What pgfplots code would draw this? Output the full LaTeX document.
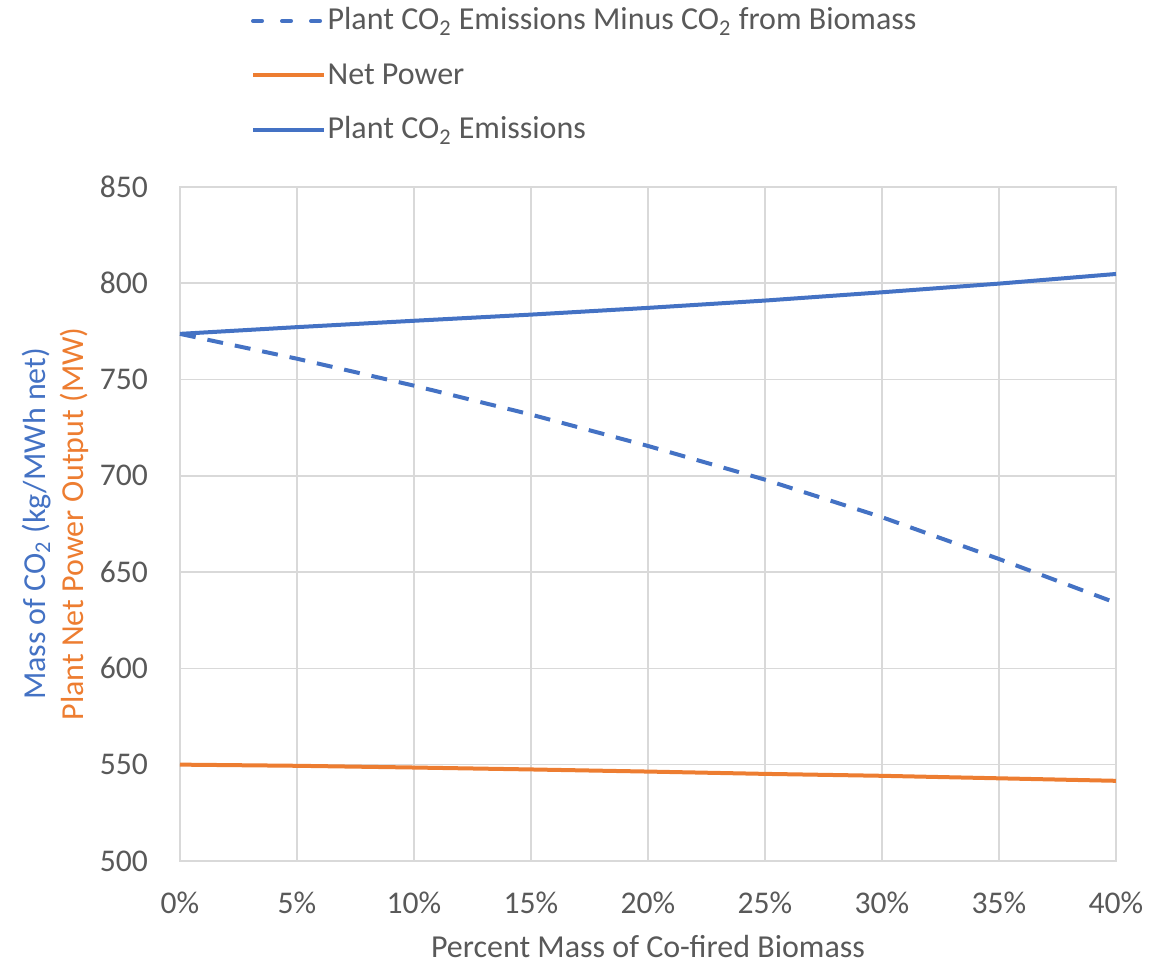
\documentclass[border=0pt]{standalone}
\usepackage{pgfplots}
\pgfplotsset{compat=1.18}
\usepackage{fontspec}
\setmainfont{Carlito}

\definecolor{exblue}{HTML}{4472C4}
\definecolor{exorange}{HTML}{ED7D31}
\definecolor{exgrid}{HTML}{D9D9D9}
\definecolor{extext}{HTML}{595959}

\newcommand{\tickfont}{\fontsize{15.8}{18}\selectfont}
\newcommand{\chfont}{\fontsize{16}{19}\selectfont}
\newcommand{\COtwo}{CO\textsubscript{2}}

\begin{document}
\begin{tikzpicture}
\begin{axis}[
  scale only axis,
  width=468pt, height=337pt,
  xmin=0, xmax=40, ymin=500, ymax=850,
  xtick={0,5,...,40},
  xticklabels={0\%,5\%,10\%,15\%,20\%,25\%,30\%,35\%,40\%},
  ytick={500,550,...,850},
  /pgf/number format/assume math mode=true,
  major tick length=0pt,
  grid=major,
  major grid style={draw=exgrid, line width=0.8pt},
  axis line style={draw=exgrid, line width=0.8pt},
  tick label style={font=\tickfont, text=extext, inner sep=0pt},
  yticklabel style={xshift=-15.8pt},
  xticklabel style={yshift=-15.3pt},
  legend style={draw=none, fill=none, anchor=north west,
    at={(rel axis cs:0.0759,1.2656)},
    inner sep=0pt, outer sep=0pt, row sep=13.25pt, column sep=0.8pt,
    font=\chfont, text=extext,
    nodes={inner sep=0pt, text height=11pt, text depth=3pt},
    cells={anchor=base west}},
  legend image code/.code={\draw[#1] (0pt,4.5pt) -- (35.5pt,4.5pt);},
  clip=false,
]
% plant emissions net of biogenic CO2
\addplot[exblue, line width=2pt, dash pattern=on 8pt off 6pt,
  legend image post style={dash pattern=on 4.5pt off 10pt, line cap=round}]
  coordinates {(0,773.7) (5,760.8) (10,746.8) (15,731.8) (20,715.5)
               (25,698.0) (30,678.5) (35,656.8) (40,634.0)};
\addlegendentry{Plant \COtwo{} Emissions Minus \COtwo{} from Biomass}
% net power output
\addplot[exorange, line width=2pt]
  coordinates {(0,550.0) (5,549.4) (10,548.5) (15,547.5) (20,546.4)
               (25,545.2) (30,544.2) (35,542.9) (40,541.6)};
\addlegendentry{Net Power}
% total plant emissions
\addplot[exblue, line width=2pt]
  coordinates {(0,773.7) (5,777.2) (10,780.5) (15,783.7) (20,787.2)
               (25,791.0) (30,795.3) (35,799.8) (40,804.8)};
\addlegendentry{Plant \COtwo{} Emissions}

% axis titles
\node[rotate=90, anchor=base, text=exblue, font=\chfont]
  at (rel axis cs:-0.1442,0.5) {Mass of \COtwo{} (kg/MWh net)};
\node[rotate=90, anchor=base, text=exorange, font=\chfont]
  at (rel axis cs:-0.1036,0.5) {Plant Net Power Output (MW)};
\node[anchor=base, text=extext, font=\chfont]
  at (rel axis cs:0.5,-0.1440) {Percent Mass of Co-fired Biomass};

\coordinate (bbsw) at (rel axis cs:-0.1923,-0.1499);
\coordinate (bbne) at (rel axis cs:1.0556,1.2774);
\end{axis}
\path (bbsw) rectangle (bbne);
\end{tikzpicture}
\end{document}
